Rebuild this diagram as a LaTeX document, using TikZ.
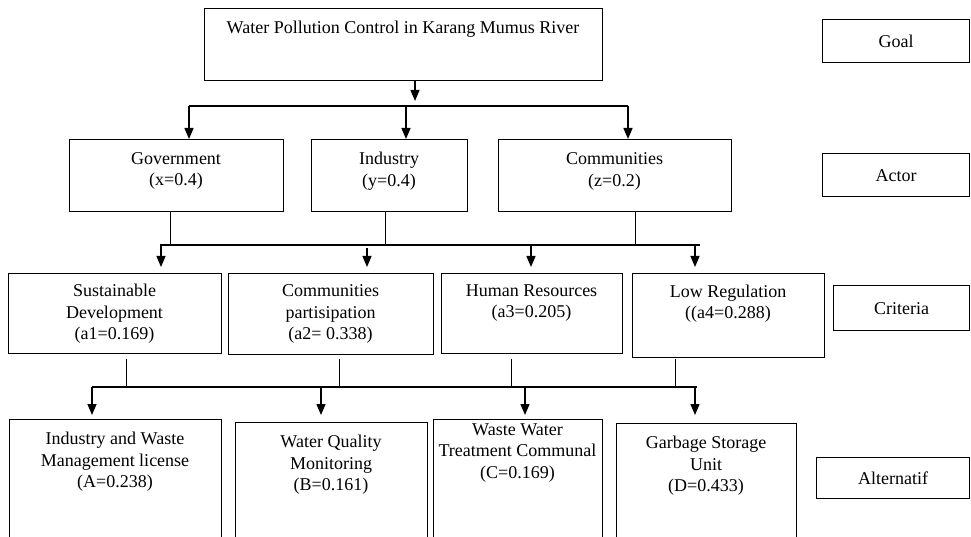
\documentclass[tikz,border=0pt]{standalone}
\usepackage{fontspec}
\setmainfont{Liberation Serif}
\usetikzlibrary{arrows.meta}
\begin{document}
\begin{tikzpicture}[x=1pt,y=-1pt,
  box/.style={draw,line width=1.4pt,rectangle,anchor=north west,inner sep=0pt},
  txt/.style={align=center,inner sep=0pt,font=\fontsize{18}{21.5}\selectfont},
  thin/.style={line width=0.9pt},
  bus/.style={line width=1.7pt},
  arr/.style={line width=1.4pt,-{Triangle[length=11pt,width=9pt]}}]
\useasboundingbox (0,0) rectangle (971,537);
% boxes
\node[box,minimum width=398pt,minimum height=72pt] (goal) at (204,8) {};
\node[box,minimum width=147pt,minimum height=43pt] (lgoal) at (822,19) {};
\node[box,minimum width=214pt,minimum height=72pt] (gov) at (69,139) {};
\node[box,minimum width=156pt,minimum height=72pt] (ind) at (311,139) {};
\node[box,minimum width=233pt,minimum height=72pt] (com) at (498,139) {};
\node[box,minimum width=147pt,minimum height=43pt] (lactor) at (822,153) {};
\node[box,minimum width=213pt,minimum height=80pt] (sd) at (8,273) {};
\node[box,minimum width=205pt,minimum height=81pt] (cp) at (228,273) {};
\node[box,minimum width=181pt,minimum height=80pt] (hr) at (441,273) {};
\node[box,minimum width=192pt,minimum height=84pt] (lr) at (632,273) {};
\node[box,minimum width=136pt,minimum height=45pt] (lcrit) at (833,285) {};
\node[box,minimum width=212pt,minimum height=130pt] (alta) at (9,419) {};
\node[box,minimum width=192pt,minimum height=130pt] (altb) at (235,422) {};
\node[box,minimum width=169pt,minimum height=130pt] (altc) at (433,419) {};
\node[box,minimum width=180pt,minimum height=130pt] (altd) at (616,423) {};
\node[box,minimum width=153pt,minimum height=41pt] (lalt) at (816,457) {};
% texts
\node[txt] (tgoal) at (403,29) {Water Pollution Control in Karang Mumus River};
\node[txt] (tlgoal) at (lgoal.center) {Goal};
\node[txt] (tgov) at (176,171) {Government\\(x=0.4)};
\node[txt] (tind) at (389,171) {Industry\\(y=0.4)};
\node[txt] (tcom) at (614.5,171.5) {Communities\\(z=0.2)};
\node[txt] (tlactor) at (lactor.center) {Actor};
\node[txt] (tsd) at (114.5,314) {Sustainable\\Development\\(a1=0.169)};
\node[txt] (tcp) at (330.5,314) {Communities\\partisipation\\(a2= 0.338)};
\node[txt] (thr) at (531.5,303) {Human Resources\\(a3=0.205)};
\node[txt] (tlr) at (728,303.5) {Low Regulation\\((a4=0.288)};
\node[txt] (tlcrit) at (lcrit.center) {Criteria};
\node[txt] (ta) at (115,462) {Industry and Waste\\Management license\\(A=0.238)};
\node[txt] (tb) at (331,465) {Water Quality\\Monitoring\\(B=0.161)};
\node[txt] (tc) at (517.5,453) {Waste Water\\Treatment Communal\\(C=0.169)};
\node[txt] (td) at (706,466) {Garbage Storage\\Unit\\(D=0.433)};
\node[txt] (tlalt) at (lalt.center) {Alternatif};
% level 1 connectors
\coordinate (b1) at (415,106);
\coordinate (b1l) at (189,106);
\coordinate (b1r) at (628,106);
\coordinate (b1m) at (406,106);
\draw[arr] (goal.south -| b1) -- ([yshift=5pt]b1);
\draw[bus] (b1l) -- (b1r);
\draw[arr] (b1l) -- (gov.north -| b1l);
\draw[arr] (b1m) -- (ind.north -| b1m);
\draw[arr] (b1r) -- (com.north -| b1r);
% level 2 connectors
\coordinate (b2l) at (160,245);
\coordinate (b2r) at (700,245);
\coordinate (g2) at (170,245);
\coordinate (i2) at (385,245);
\coordinate (c2) at (635,245);
\draw[thin] (gov.south -| g2) -- (g2);
\draw[thin] (ind.south -| i2) -- (i2);
\draw[thin] (com.south -| c2) -- (c2);
\draw[bus] (b2l) -- (b2r);
\coordinate (a21) at (161,245);
\coordinate (a22) at (367,248);
\coordinate (a23) at (531,245);
\coordinate (a24) at (695,245);
\draw[arr,shorten >=6pt] (a21) -- (sd.north -| a21);
\draw[arr,shorten >=6pt] (a22) -- (cp.north -| a22);
\draw[arr,shorten >=6pt] (a23) -- (hr.north -| a23);
\draw[arr,shorten >=6pt] (a24) -- (lr.north -| a24);
% level 3 connectors
\coordinate (b3l) at (92,387);
\coordinate (b3r) at (697,387);
\coordinate (s3) at (126,387);
\coordinate (p3) at (339,387);
\coordinate (h3) at (511,387);
\coordinate (l3) at (675,387);
\draw[thin] ([yshift=-5pt]sd.south -| s3) -- (s3);
\draw[thin] ([yshift=-4pt]cp.south -| p3) -- (p3);
\draw[thin] ([yshift=-5pt]hr.south -| h3) -- (h3);
\draw[thin] ([yshift=-1pt]lr.south -| l3) -- (l3);
\draw[bus] (b3l) -- (b3r);
\coordinate (a31) at (92,387);
\coordinate (a32) at (321,387);
\coordinate (a33) at (525,387);
\coordinate (a34) at (695,387);
\draw[arr,shorten >=4pt] (a31) -- (alta.north -| a31);
\draw[arr,shorten >=7pt] (a32) -- (altb.north -| a32);
\draw[arr,shorten >=4pt] (a33) -- (altc.north -| a33);
\draw[arr,shorten >=8pt] (a34) -- (altd.north -| a34);
\end{tikzpicture}
\end{document}
